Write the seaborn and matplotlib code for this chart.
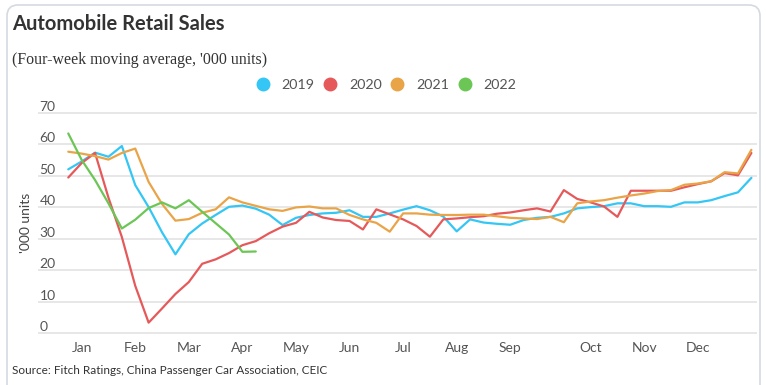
import seaborn as sns
import matplotlib.pyplot as plt
import pandas as pd
from matplotlib.patches import FancyBboxPatch
from matplotlib.lines import Line2D
from matplotlib.transforms import IdentityTransform

# weekly four-week moving averages ('000 units), 52 weeks
sales_2019 = [52, 54.5, 57.3, 56, 59.4, 47, 40, 32, 25, 31.4,
              34.8, 37.5, 40.1, 40.5, 39.5, 37.6, 34.3, 36.6, 37.5, 38,
              38.2, 39, 36.9, 36.9, 38, 39.2, 40.3, 39, 37, 32.3,
              36.1, 35.1, 34.7, 34.4, 35.9, 36.6, 36.9, 38, 39.6, 40,
              40.3, 41.2, 41.2, 40.3, 40.3, 40.1, 41.5, 41.5, 42.2, 43.5, 44.7, 49.3]
sales_2020 = [49.4, 54, 57.2, 43, 30.5, 15, 3.3, 7.8, 12.4, 16.2,
              22, 23.4, 25.4, 27.9, 29.2, 31.7, 33.8, 35, 38.5, 36.7,
              35.9, 35.6, 32.9, 39.3, 37.7, 36.1, 34, 30.6, 36.1, 36.4,
              36.8, 37.1, 37.9, 38.3, 39, 39.6, 38.6, 45.4, 42.6, 41.5,
              40.2, 36.9, 45.2, 45.2, 45.2, 45.2, 46.3, 47.3, 48.2, 50.8, 50.1, 57.2]
sales_2021 = [57.6, 57, 56.2, 55.1, 57.2, 58.6, 48, 41, 35.7, 36.2,
              38.2, 39.3, 43.1, 41.5, 40.4, 39.3, 38.8, 39.9, 40.2, 39.6,
              39.6, 37.5, 36.1, 35, 32.2, 38, 38, 37.6, 37.5, 37.5,
              37.6, 37.6, 37.1, 36.6, 36.4, 36.2, 36.9, 35.2, 41.2, 41.8,
              42.2, 43, 43.7, 44.3, 45.1, 45.4, 47.1, 47.5, 48.2, 51.1, 50.7, 58.2]
sales_2022 = [63.4, 55, 48.6, 41.2, 33.2, 36, 39.7, 41.5, 39.6, 42.2,
              38.5, 34.9, 31.3, 25.8, 25.9]

years = ["2019", "2020", "2021", "2022"]
colors = ["#34c6f4", "#e6595b", "#e9a448", "#6cc655"]
month_labels = ["Jan", "Feb", "Mar", "Apr", "May", "Jun", "Jul", "Aug",
                "Sep", "Oct", "Nov", "Dec"]
month_weeks = [1, 5, 9, 13, 17, 21, 25, 29, 33, 39, 43, 47]
y_ticks = [0, 10, 20, 30, 40, 50, 60, 70]

frames = []
for yr, vals in zip(years, [sales_2019, sales_2020, sales_2021, sales_2022]):
    frames.append(pd.DataFrame({"week": range(len(vals)), "sales": vals, "year": yr}))
df = pd.concat(frames, ignore_index=True)

sns.set_style("white")
plt.rcParams["font.family"] = ["Lato", "DejaVu Sans"]

W, H = 766, 385
fig = plt.figure(figsize=(W / 100, H / 100), dpi=100)

# card border
card = FancyBboxPatch((7, -30), 753, 410, boxstyle="round,pad=0,rounding_size=11",
                      transform=IdentityTransform(), fill=False,
                      edgecolor="#d3dae0", linewidth=1.2)
fig.add_artist(card)

ax = fig.add_axes([38 / W, 50.4 / H, (757 - 38) / W, (273.9 - 50.4) / H])
sns.lineplot(data=df, x="week", y="sales", hue="year", palette=colors,
             linewidth=1.6, legend=False, ax=ax)

ax.set_xlim(-2.26, 51.42)
ax.set_ylim(-0.5, 70.5)
ax.set_yticks(y_ticks)
ax.set_yticklabels([str(t) for t in y_ticks], ha="left", va="bottom")
ax.tick_params(axis="y", length=0, pad=-1, labelsize=10, labelcolor="#555555")
ax.set_xticks(month_weeks)
ax.set_xticklabels(month_labels)
ax.tick_params(axis="x", length=0, pad=5, labelsize=10, labelcolor="#555555")
ax.set_xlabel("")
ax.set_ylabel("")
ax.grid(axis="y", color="#e3e3e3", linewidth=1.2)
ax.grid(axis="x", visible=False)
for s in ax.spines.values():
    s.set_visible(False)
ax.set_facecolor("none")

fig.text(26 / W, 1 - 223 / H, "'000 units", rotation=90, ha="center", va="center",
         fontsize=10, color="#444444")

fig.text(12 / W, 1 - 29.5 / H, "Automobile Retail Sales", fontsize=14.5,
         fontweight="bold", color="#333333", va="baseline")
fig.text(12 / W, 1 - 63.5 / H, "(Four-week moving average, '000 units)",
         fontsize=11.4, family="Liberation Serif", color="#333333", va="baseline")
fig.text(12 / W, 1 - 371 / H, "Source: Fitch Ratings, China Passenger Car Association, CEIC",
         fontsize=8.5, color="#333333", va="center")

handles = [Line2D([], [], linestyle="none", marker="o", markersize=9,
                  markerfacecolor=c, markeredgecolor=c) for c in colors]
fig.legend(handles, years, loc="center", bbox_to_anchor=(386 / W, 1 - 85 / H),
           ncol=4, frameon=False, fontsize=10.3, labelcolor="#555555",
           handlelength=1.0, handletextpad=0.8, columnspacing=0.6,
           borderaxespad=0, borderpad=0)

fig.savefig("out.png", dpi=100)
